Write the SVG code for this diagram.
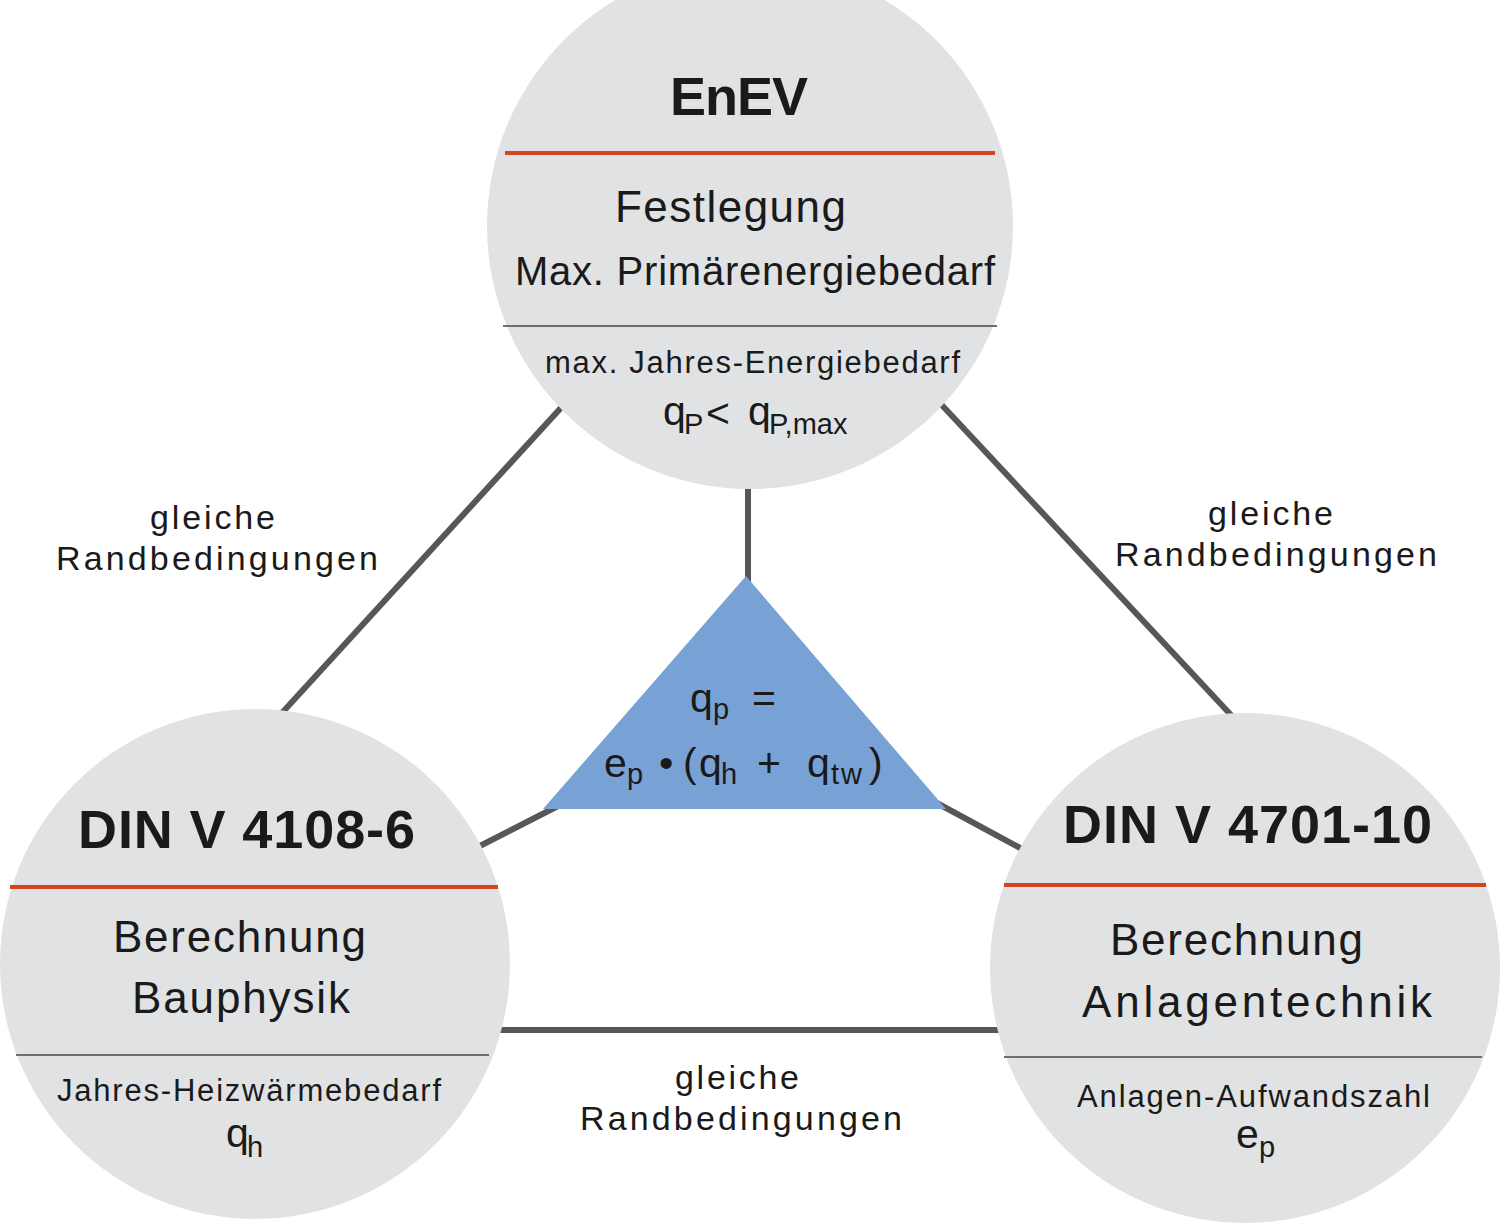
<svg xmlns="http://www.w3.org/2000/svg" width="1500" height="1225" viewBox="0 0 1500 1225">
<style>
text{font-family:"Liberation Sans","Noto Sans",Arial,sans-serif;fill:#1a1a1a}
.h{font-weight:bold;font-size:54px}
.m{font-size:44px}
.s{font-size:31px}
.lab{font-size:34px}
.f{font-size:40px}
.q{font-size:41px}
.sub{font-size:29px}
.circ{fill:#e1e2e4}
.red{stroke:#d8431f;stroke-width:4}
.gry{stroke:#6e6e6e;stroke-width:2}
.con{stroke:#575757;stroke-width:6;fill:none}
</style>
<rect width="1500" height="1225" fill="#ffffff"/>
<g id="connectors">
<line class="con" x1="580" y1="387" x2="270" y2="726"/>
<line class="con" x1="925" y1="387" x2="1245" y2="730"/>
<line class="con" x1="748" y1="470" x2="748" y2="590"/>
<line class="con" x1="560" y1="805" x2="470" y2="851"/>
<line class="con" x1="935" y1="802" x2="1035" y2="856"/>
<line class="con" x1="480" y1="1030" x2="1010" y2="1030"/>
</g>
<g id="label-left">
<text class="lab" x="212.5" y="529" text-anchor="middle" textLength="125" lengthAdjust="spacing">gleiche</text>
<text class="lab" x="217" y="570" text-anchor="middle" textLength="322" lengthAdjust="spacing">Randbedingungen</text>
</g>
<g id="label-right">
<text class="lab" x="1270.5" y="525" text-anchor="middle" textLength="125" lengthAdjust="spacing">gleiche</text>
<text class="lab" x="1276" y="566" text-anchor="middle" textLength="322" lengthAdjust="spacing">Randbedingungen</text>
</g>
<g id="label-bottom">
<text class="lab" x="737" y="1089" text-anchor="middle" textLength="124" lengthAdjust="spacing">gleiche</text>
<text class="lab" x="741" y="1130" text-anchor="middle" textLength="322" lengthAdjust="spacing">Randbedingungen</text>
</g>
<g id="enev">
<circle class="circ" cx="750" cy="226" r="263"/>
<text class="h" x="739" y="115" text-anchor="middle" textLength="138" lengthAdjust="spacing">EnEV</text>
<line class="red" x1="505" y1="153" x2="995" y2="153"/>
<text class="m" x="730.5" y="222" text-anchor="middle" textLength="231" lengthAdjust="spacing">Festlegung</text>
<text class="f" x="755" y="285" text-anchor="middle" textLength="480" lengthAdjust="spacing">Max. Primärenergiebedarf</text>
<line class="gry" x1="503" y1="326" x2="997" y2="326"/>
<text class="s" x="752.5" y="373" text-anchor="middle" textLength="415" lengthAdjust="spacing">max. Jahres-Energiebedarf</text>
<text class="q" x="663" y="425">q<tspan class="sub" x="684" y="434">P</tspan><tspan x="706" y="427">&lt;</tspan><tspan x="748" y="425">q</tspan><tspan class="sub" x="769" y="434">P,max</tspan></text>
</g>
<g id="din4108">
<circle class="circ" cx="255" cy="964" r="255"/>
<text class="h" x="246.5" y="848" text-anchor="middle" textLength="337" lengthAdjust="spacing">DIN V 4108-6</text>
<line class="red" x1="10" y1="887" x2="498" y2="887"/>
<text class="m" x="239.5" y="952" text-anchor="middle" textLength="253" lengthAdjust="spacing">Berechnung</text>
<text class="m" x="241" y="1013" text-anchor="middle" textLength="218" lengthAdjust="spacing">Bauphysik</text>
<line class="gry" x1="16" y1="1055" x2="489" y2="1055"/>
<text class="s" x="249" y="1101" text-anchor="middle" textLength="384" lengthAdjust="spacing">Jahres-Heizwärmebedarf</text>
<text class="q" x="226" y="1147">q<tspan class="sub" x="247" y="1157">h</tspan></text>
</g>
<g id="din4701">
<circle class="circ" cx="1245" cy="968" r="255"/>
<text class="h" x="1247.5" y="843" text-anchor="middle" textLength="369" lengthAdjust="spacing">DIN V 4701-10</text>
<line class="red" x1="1004" y1="885" x2="1486" y2="885"/>
<text class="m" x="1236.5" y="955" text-anchor="middle" textLength="253" lengthAdjust="spacing">Berechnung</text>
<text class="m" x="1257" y="1017" text-anchor="middle" textLength="350" lengthAdjust="spacing">Anlagentechnik</text>
<line class="gry" x1="1004" y1="1057" x2="1482" y2="1057"/>
<text class="s" x="1253.5" y="1107" text-anchor="middle" textLength="353" lengthAdjust="spacing">Anlagen-Aufwandszahl</text>
<text class="q" x="1236" y="1148">e<tspan class="sub" x="1259" y="1157">p</tspan></text>
</g>
<g id="formula">
<polygon points="746,576 543,809 946,809" fill="#78a2d6"/>
<text class="q" x="690" y="712">q<tspan class="sub" x="713" y="719">p</tspan><tspan x="752" y="712">=</tspan></text>
<text class="q" x="604" y="777">e<tspan class="sub" x="627" y="784">p</tspan><tspan x="659" y="777">•</tspan><tspan x="683" y="777">(</tspan><tspan x="699" y="777">q</tspan><tspan class="sub" x="721" y="784">h</tspan><tspan x="757" y="777">+</tspan><tspan x="807" y="777">q</tspan><tspan class="sub" x="831" y="784">t</tspan><tspan class="sub" x="841" y="784">w</tspan><tspan x="869" y="777">)</tspan></text>
</g>
</svg>
